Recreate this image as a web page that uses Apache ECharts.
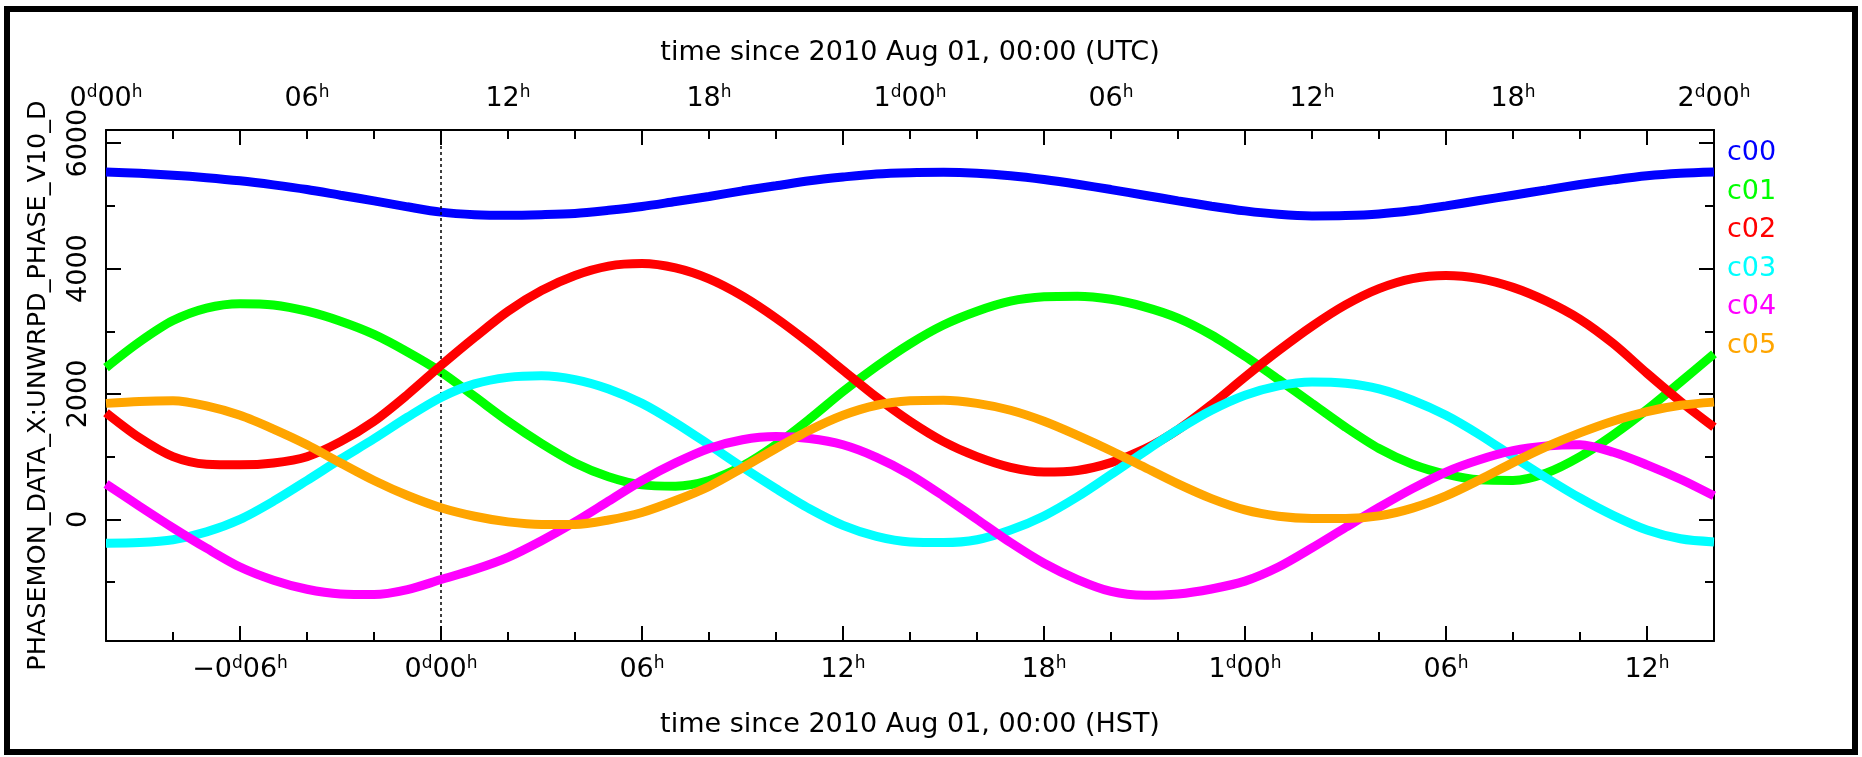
<!DOCTYPE html>
<html>
<head>
<meta charset="utf-8">
<script src="https://cdn.jsdelivr.net/npm/echarts@6/dist/echarts.min.js"></script>
<style>
  html, body { margin: 0; padding: 0; background: #ffffff; }
  #chart { width: 1862px; height: 757px; }
</style>
</head>
<body>
<div id="chart"></div>
<script>
// ---- data (hours since 2010 Aug 01 00:00 UTC) ----
const hoursUTC = [0, 1, 2, 3, 4, 5, 6, 7, 8, 9, 10, 11, 12, 13, 14, 15, 16, 17, 18, 19, 20, 21, 22, 23, 24,
                  25, 26, 27, 28, 29, 30, 31, 32, 33, 34, 35, 36, 37, 38, 39, 40, 41, 42, 43, 44, 45, 46, 47, 48];
const seriesNames = ['c00', 'c01', 'c02', 'c03', 'c04', 'c05'];
const c00 = [5540, 5520, 5490, 5450, 5400, 5335, 5260, 5170, 5080, 4985, 4900, 4860, 4850, 4860, 4880, 4930, 4990, 5070, 5150, 5240, 5320, 5400, 5460, 5510, 5530,
             5535, 5520, 5480, 5420, 5345, 5260, 5170, 5080, 4995, 4920, 4865, 4840, 4845, 4870, 4925, 5000, 5085, 5170, 5255, 5340, 5415, 5480, 5520, 5540];
const c01 = [2420, 2830, 3170, 3370, 3440, 3420, 3320, 3160, 2950, 2670, 2350, 1960, 1565, 1210, 900, 680, 550, 530, 620, 850, 1190, 1600, 2040, 2440, 2800,
             3100, 3320, 3480, 3550, 3560, 3510, 3390, 3210, 2940, 2600, 2230, 1850, 1470, 1130, 880, 720, 630, 620, 740, 1000, 1350, 1750, 2190, 2640];
const c02 = [1700, 1300, 1000, 880, 870, 900, 1000, 1240, 1565, 1990, 2455, 2900, 3320, 3650, 3890, 4040, 4080, 4010, 3835, 3560, 3210, 2810, 2380, 1950, 1565,
             1240, 1000, 830, 755, 780, 905, 1120, 1430, 1830, 2270, 2690, 3080, 3420, 3680, 3840, 3890, 3840, 3700, 3480, 3190, 2800, 2330, 1880, 1470];
const c03 = [-380, -370, -325, -200, 0, 290, 620, 960, 1285, 1630, 1945, 2160, 2265, 2290, 2230, 2080, 1850, 1540, 1190, 830, 490, 170, -95, -270, -360,
             -370, -325, -170, 55, 360, 715, 1080, 1430, 1740, 1980, 2130, 2190, 2170, 2080, 1900, 1660, 1350, 1000, 660, 340, 60, -170, -310, -360];
const c04 = [565, 210, -135, -460, -760, -970, -1115, -1190, -1200, -1120, -960, -800, -605, -340, -40, 290, 620, 900, 1130, 1270, 1320, 1290, 1190, 990, 715,
             370, 0, -370, -700, -960, -1150, -1210, -1190, -1110, -985, -760, -455, -130, 190, 490, 755, 950, 1095, 1170, 1190, 1070, 870, 640, 375];
const c05 = [1850, 1880, 1890, 1810, 1660, 1440, 1190, 900, 620, 380, 185, 50, -40, -80, -80, -10, 110, 300, 525, 820, 1130, 1420, 1660, 1820, 1890,
             1900, 1850, 1740, 1565, 1340, 1095, 830, 565, 330, 150, 50, 15, 15, 55, 180, 375, 630, 905, 1160, 1380, 1570, 1720, 1820, 1870];
const seriesValues = [c00, c01, c02, c03, c04, c05];
const seriesColors = ['#0000ff', '#00ff00', '#ff0000', '#00ffff', '#ff00ff', '#ffa500'];

const hstOffset = 10;                // HST = UTC - 10 h
const refLineUTC = 10;               // 0d00h HST
const xMin = 0, xMax = 48;
const yMin = -1940, yMax = 6210;
const yLabelValues = [0, 2000, 4000, 6000];
const yMinorValues = [-1000, 1000, 3000, 5000];
const utcLabelValues = [0, 6, 12, 18, 24, 30, 36, 42, 48];
const majorTickUTC = [4, 10, 16, 22, 28, 34, 40, 46];   // HST multiples of 6 h
const minorTickUTC = [2, 6, 8, 12, 14, 18, 20, 24, 26, 30, 32, 36, 38, 42, 44];
const yName = 'PHASEMON_DATA_X:UNWRPD_PHASE_V10_D';
const topTitle = 'time since 2010 Aug 01, 00:00 (UTC)';
const bottomTitle = 'time since 2010 Aug 01, 00:00 (HST)';

// ---- styling ----
const FONT = 'DejaVu Sans';
const FS = 27;
const rich = {
  n: { fontFamily: FONT, fontSize: FS, color: '#000', lineHeight: 30 },
  s: { fontFamily: FONT, fontSize: 17, color: '#000', verticalAlign: 'top', lineHeight: 17 }
};
function pad2(v) { return (v < 10 ? '0' : '') + v; }
function timeLabel(h) {
  const neg = h < 0;
  const a = Math.abs(h);
  const d = Math.floor(a / 24);
  const hh = a % 24;
  if (hh === 0 || neg) {
    return '{n|' + (neg ? '\u2212' : '') + d + '}{s|d}{n|' + pad2(hh) + '}{s|h}';
  }
  return '{n|' + pad2(hh) + '}{s|h}';
}

const chart = echarts.init(document.getElementById('chart'), null, { renderer: 'canvas' });

const gridRect = { left: 106, top: 130, width: 1608, height: 511 };
const axisLineStyle = { color: '#000', width: 2 };
const tickLine = { color: '#000', width: 2 };

function minorAxis(pos, isX) {
  return {
    type: 'value', gridIndex: 1, position: pos,
    min: isX ? xMin : yMin, max: isX ? xMax : yMax,
    axisLine: { show: false, onZero: false },
    axisTick: { show: true, inside: true, length: 9, customValues: isX ? minorTickUTC : yMinorValues, lineStyle: tickLine },
    axisLabel: { show: false },
    splitLine: { show: false }
  };
}

const option = {
  backgroundColor: '#ffffff',
  animation: false,
  textStyle: { fontFamily: FONT },
  grid: [
    Object.assign({ containLabel: false }, gridRect),
    Object.assign({ containLabel: false }, gridRect)
  ],
  legend: {
    orient: 'vertical',
    left: 1716,
    top: 133,
    itemWidth: 0,
    itemHeight: 0,
    itemGap: 8.5,
    selectedMode: false,
    textStyle: { fontFamily: FONT, fontSize: FS, lineHeight: 30 },
    data: seriesNames.map((n, i) => ({ name: n, textStyle: { color: seriesColors[i] } }))
  },
  xAxis: [
    { // bottom HST: labels + long ticks
      type: 'value', gridIndex: 0, position: 'bottom', min: xMin, max: xMax,
      axisLine: { show: true, onZero: false, lineStyle: axisLineStyle },
      axisTick: { show: true, inside: true, length: 15, customValues: majorTickUTC, lineStyle: tickLine },
      axisLabel: {
        show: true, margin: 14, customValues: majorTickUTC, hideOverlap: false,
        formatter: v => timeLabel(v - hstOffset), rich: rich
      },
      splitLine: { show: false },
      name: bottomTitle, nameLocation: 'middle', nameGap: 70,
      nameTextStyle: { fontFamily: FONT, fontSize: FS, color: '#000' }
    },
    { // top UTC: labels + long ticks mirrored
      type: 'value', gridIndex: 0, position: 'top', min: xMin, max: xMax,
      axisLine: { show: true, onZero: false, lineStyle: axisLineStyle },
      axisTick: { show: true, inside: true, length: 15, customValues: majorTickUTC, lineStyle: tickLine },
      axisLabel: {
        show: true, margin: 16, customValues: utcLabelValues, hideOverlap: false,
        showMinLabel: true, showMaxLabel: true,
        formatter: v => timeLabel(v), rich: rich
      },
      splitLine: { show: false },
      name: topTitle, nameLocation: 'middle', nameGap: 64,
      nameTextStyle: { fontFamily: FONT, fontSize: FS, color: '#000' }
    },
    minorAxis('bottom', true),
    minorAxis('top', true)
  ],
  yAxis: [
    {
      type: 'value', gridIndex: 0, position: 'left', min: yMin, max: yMax,
      axisLine: { show: true, onZero: false, lineStyle: axisLineStyle },
      axisTick: { show: true, inside: true, length: 15, customValues: yLabelValues, lineStyle: tickLine },
      axisLabel: {
        show: true, rotate: 90, margin: 14, customValues: yLabelValues, hideOverlap: false,
        formatter: v => String(v),
        fontFamily: FONT, fontSize: FS, color: '#000'
      },
      splitLine: { show: false },
      name: yName, nameLocation: 'middle', nameGap: 55, nameRotate: 90,
      nameTextStyle: { fontFamily: FONT, fontSize: 25.5, color: '#000' }
    },
    {
      type: 'value', gridIndex: 0, position: 'right', min: yMin, max: yMax,
      axisLine: { show: true, onZero: false, lineStyle: axisLineStyle },
      axisTick: { show: true, inside: true, length: 15, customValues: yLabelValues, lineStyle: tickLine },
      axisLabel: { show: false },
      splitLine: { show: false }
    },
    minorAxis('left', false),
    minorAxis('right', false)
  ],
  graphic: [
    {
      type: 'rect', silent: true, z: 100,
      shape: { x: 7, y: 9, width: 1848, height: 743 },
      style: { fill: 'none', stroke: '#000', lineWidth: 6 }
    }
  ],
  series: seriesNames.map((name, i) => {
    const s = {
      name: name,
      type: 'line',
      xAxisIndex: 0,
      yAxisIndex: 0,
      data: hoursUTC.map((h, k) => [h, seriesValues[i][k]]),
      showSymbol: false,
      smooth: 0.3,
      color: seriesColors[i],
      lineStyle: { color: seriesColors[i], width: 9 },
      z: 3 + i
    };
    if (i === 0) {
      s.markLine = {
        silent: true,
        symbol: ['none', 'none'],
        label: { show: false },
        lineStyle: { color: '#000', type: [3, 3], width: 1.5 },
        data: [{ xAxis: refLineUTC }]
      };
    }
    return s;
  })
};

chart.setOption(option);
</script>
</body>
</html>
